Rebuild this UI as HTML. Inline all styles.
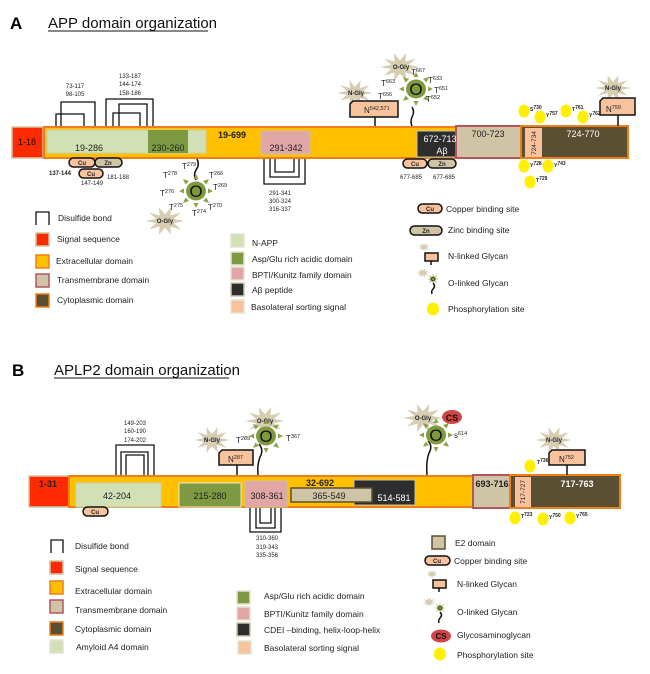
<!DOCTYPE html>
<html><head><meta charset="utf-8"><style>
html,body{margin:0;padding:0;background:#fff}
svg{display:block}
text{font-family:"Liberation Sans",sans-serif;fill:#222}
.d{font-size:9px;text-anchor:middle}
.s{font-size:6px;text-anchor:middle}
.l{font-size:8.5px}
.sup{font-size:5.5px}
</style></head><body>
<svg width="650" height="674" viewBox="0 0 650 674" xmlns="http://www.w3.org/2000/svg">
<defs>
<polygon id="star" fill="#d6cdb2" points="15,0 6.7,2.2 12.1,8.8 4.1,5.7 4.6,14.3 0,7 -4.6,14.3 -4.1,5.7 -12.1,8.8 -6.7,2.2 -15,0 -6.7,-2.2 -12.1,-8.8 -4.1,-5.7 -4.6,-14.3 0,-7 4.6,-14.3 4.1,-5.7 12.1,-8.8 6.7,-2.2" transform="scale(1.1,0.8)"/>
<g id="og">
<ellipse cx="0" cy="0" rx="10" ry="9.5" fill="#7f9a3e"/>
<g fill="#8aa347">
<polygon points="-2.5,-12 2.5,-12 0,-17"/>
<polygon points="-2.5,12 2.5,12 0,17"/>
<polygon points="12,-2.5 12,2.5 17,0"/>
<polygon points="-12,-2.5 -12,2.5 -17,0"/>
<polygon points="7,-10 10.5,-6.5 13,-12"/>
<polygon points="-7,-10 -10.5,-6.5 -13,-12"/>
<polygon points="7,10 10.5,6.5 13,12"/>
<polygon points="-7,10 -10.5,6.5 -13,12"/>
</g>
<text x="0" y="6" style="font-size:17px;text-anchor:middle;fill:#111">O</text>
</g>
</defs>

<!-- ===== A ===== -->
<text x="10" y="29" style="font-size:17px;font-weight:bold;fill:#000">A</text>
<text x="48" y="28" style="font-size:15px;fill:#111">APP domain organization</text>
<line x1="48" y1="31" x2="208" y2="31" stroke="#111" stroke-width="1"/>

<g fill="none" stroke="#111" stroke-width="1.3">
<path d="M61,126V102H95V126"/><path d="M56,126V114H84V126"/>
<path d="M106,126V99H153V126"/><path d="M119,126V104H147V126"/><path d="M113,126V113H140V126"/>
<path d="M264,159V184H305V159"/><path d="M270,159V177H299V159"/><path d="M275,159V172H294V159"/>
</g>
<text class="s" x="75" y="88">73-117</text><text class="s" x="75" y="96">98-105</text>
<text class="s" x="130" y="78">133-187</text><text class="s" x="130" y="86">144-174</text><text class="s" x="130" y="95">158-186</text>
<text class="s" x="280" y="195">291-341</text><text class="s" x="280" y="203">300-324</text><text class="s" x="280" y="211">316-337</text>

<rect x="12" y="127" width="31" height="31" fill="#ff2a00" stroke="#cfc5a6" stroke-width="1.5"/>
<rect x="44" y="127" width="414" height="31" fill="#ffc000" stroke="#f07e18" stroke-width="2"/>
<rect x="47" y="130" width="159" height="23" fill="#d1e0b5" stroke="#c8d0b0"/>
<rect x="148" y="130" width="40" height="23" fill="#7d9a42"/>
<rect x="261" y="131" width="49" height="23" fill="#e1a7a7" stroke="#c8c0a8"/>
<rect x="417" y="131" width="51" height="26" fill="#2d2d2d" stroke="#c8c0a8"/>
<rect x="456" y="126" width="65" height="32" fill="#cfc5a6" stroke="#b5555a" stroke-width="2"/>
<rect x="521" y="126" width="107" height="32" fill="#5a4f32" stroke="#f07e18" stroke-width="2"/>
<rect x="525" y="128" width="17" height="29" fill="#f8c29d"/>
<text class="d" x="27" y="145" style="fill:#111">1-18</text>
<text class="d" x="89" y="151">19-286</text>
<text class="d" x="168" y="151">230-260</text>
<text class="d" x="232" y="138" style="font-weight:bold">19-699</text>
<text class="d" x="286" y="151">291-342</text>
<text class="d" x="440" y="142" style="fill:#fff">672-713</text>
<text class="d" x="442" y="154" style="fill:#fff">Aβ</text>
<text class="d" x="488" y="137">700-723</text>
<text class="s" x="0" y="0" transform="translate(536,143) rotate(-90)" style="font-size:6.5px">724-734</text>
<text class="d" x="583" y="137" style="fill:#fff">724-770</text>

<g stroke="#111" stroke-width="1.5">
<rect x="69" y="158" width="26" height="9" rx="4.5" fill="#f8c29d"/>
<rect x="95" y="158" width="27" height="9" rx="4.5" fill="#cfc5a6"/>
<rect x="79" y="169" width="24" height="9" rx="4.5" fill="#f8c29d"/>
<rect x="403" y="159" width="24" height="9" rx="4.5" fill="#f8c29d"/>
<rect x="428" y="159" width="28" height="9" rx="4.5" fill="#cfc5a6"/>
</g>
<text class="s" x="82" y="165" style="font-weight:bold">Cu</text><text class="s" x="108" y="165" style="font-weight:bold">Zn</text>
<text class="s" x="91" y="176" style="font-weight:bold">Cu</text>
<text class="s" x="415" y="166" style="font-weight:bold">Cu</text><text class="s" x="442" y="166" style="font-weight:bold">Zn</text>
<text class="s" x="60" y="175" style="font-weight:bold">137-144</text>
<text class="s" x="92" y="185">147-149</text><text class="s" x="118" y="179">181-188</text>
<text class="s" x="411" y="179">677-685</text><text class="s" x="444" y="179">677-685</text>

<path d="M197,159 q3,6 -1,11 q-3,5 0,10" fill="none" stroke="#111" stroke-width="1.5"/>
<use href="#og" x="196" y="191"/>
<use href="#star" transform="translate(165,221) scale(1.2)"/>
<text class="s" x="165" y="223" style="font-weight:bold">O-Gly</text>
<g style="font-size:8px">
<text x="182" y="169">T<tspan class="sup" dy="-3">279</tspan></text>
<text x="163" y="178">T<tspan class="sup" dy="-3">278</tspan></text>
<text x="209" y="178">T<tspan class="sup" dy="-3">266</tspan></text>
<text x="213" y="190">T<tspan class="sup" dy="-3">269</tspan></text>
<text x="160" y="196">T<tspan class="sup" dy="-3">276</tspan></text>
<text x="169" y="210">T<tspan class="sup" dy="-3">275</tspan></text>
<text x="192" y="216">T<tspan class="sup" dy="-3">274</tspan></text>
<text x="208" y="210">T<tspan class="sup" dy="-3">270</tspan></text>
</g>

<use href="#star" transform="translate(400,67) scale(1.2)"/>
<text class="s" x="401" y="69" style="font-weight:bold">O-Gly</text>
<path d="M412,107 q3,5 0,10 q-2,5 0,9" fill="none" stroke="#111" stroke-width="1.5"/>
<use href="#og" x="416" y="89"/>
<g style="font-size:8px">
<text x="411" y="75">T<tspan class="sup" dy="-3">667</tspan></text>
<text x="381" y="86">T<tspan class="sup" dy="-3">663</tspan></text>
<text x="428" y="83">T<tspan class="sup" dy="-3">633</tspan></text>
<text x="434" y="93">T<tspan class="sup" dy="-3">651</tspan></text>
<text x="426" y="102">T<tspan class="sup" dy="-3">652</tspan></text>
<text x="378" y="99">T<tspan class="sup" dy="-3">656</tspan></text>
</g>
<use href="#star" transform="translate(355,93) scale(1.1)"/>
<text class="s" x="356" y="95" style="font-weight:bold">N-Gly</text>
<line x1="375" y1="117" x2="375" y2="126" stroke="#111" stroke-width="1.5"/>
<path d="M350,117V104L353,101H398V117Z" fill="#f8c29d" stroke="#111" stroke-width="1.5"/>
<text x="364" y="113" style="font-size:8px">N<tspan class="sup" dy="-3">542,571</tspan></text>

<use href="#star" transform="translate(613,88) scale(1.1)"/>
<text class="s" x="613" y="90" style="font-weight:bold">N-Gly</text>
<line x1="618" y1="115" x2="618" y2="126" stroke="#111" stroke-width="1.5"/>
<path d="M600,115V101L603,98H635V115Z" fill="#f8c29d" stroke="#111" stroke-width="1.5"/>
<text x="606" y="112" style="font-size:8px">N<tspan class="sup" dy="-3">759</tspan></text>

<g fill="#ffef00">
<ellipse cx="524" cy="111" rx="5.5" ry="6.5"/><ellipse cx="540" cy="117" rx="5.5" ry="6.5"/>
<ellipse cx="566" cy="111" rx="5.5" ry="6.5"/><ellipse cx="583" cy="117" rx="5.5" ry="6.5"/>
<ellipse cx="524" cy="166" rx="5.5" ry="6.5"/><ellipse cx="548" cy="166" rx="5.5" ry="6.5"/>
<ellipse cx="530" cy="182" rx="5.5" ry="6.5"/>
</g>
<g style="font-size:5px;font-weight:bold">
<text x="530" y="111">S<tspan dy="-2">730</tspan></text>
<text x="546" y="117">Y<tspan dy="-2">757</tspan></text>
<text x="572" y="111">T<tspan dy="-2">761</tspan></text>
<text x="589" y="117">Y<tspan dy="-2">762</tspan></text>
<text x="530" y="167">Y<tspan dy="-2">728</tspan></text>
<text x="554" y="167">Y<tspan dy="-2">743</tspan></text>
<text x="536" y="182">T<tspan dy="-2">729</tspan></text>
</g>

<!-- legend A -->
<path d="M36,225V212H49V225" fill="none" stroke="#111" stroke-width="1.3"/>
<text class="l" x="58" y="221">Disulfide bond</text>
<rect x="36" y="233" width="13" height="13" fill="#ff2a00" stroke="#cfc5a6" stroke-width="1.5"/>
<text class="l" x="57" y="242">Signal sequence</text>
<rect x="36" y="255" width="13" height="13" fill="#ffc000" stroke="#f07e18" stroke-width="1.5"/>
<text class="l" x="56" y="264">Extracellular domain</text>
<rect x="36" y="274" width="13" height="13" fill="#cfc5a6" stroke="#b5555a" stroke-width="1.5"/>
<text class="l" x="57" y="283">Transmembrane domain</text>
<rect x="36" y="294" width="13" height="13" fill="#5a4f32" stroke="#f07e18" stroke-width="1.5"/>
<text class="l" x="57" y="303">Cytoplasmic domain</text>

<rect x="231" y="234" width="13" height="13" fill="#d1e0b5" stroke="#e3e3d3" stroke-width="1.5"/>
<text class="l" x="252" y="246">N-APP</text>
<rect x="231" y="252" width="13" height="13" fill="#7d9a42" stroke="#e3e3d3" stroke-width="1.5"/>
<text class="l" x="252" y="262">Asp/Glu rich acidic domain</text>
<rect x="231" y="267" width="13" height="13" fill="#e1a7a7" stroke="#e3e3d3" stroke-width="1.5"/>
<text class="l" x="252" y="278">BPTI/Kunitz family domain</text>
<rect x="231" y="283" width="13" height="13" fill="#2d2d2d" stroke="#cfc5a6" stroke-width="1.5"/>
<text class="l" x="252" y="293">Aβ peptide</text>
<rect x="231" y="300" width="13" height="13" fill="#f8c29d" stroke="#e3e3d3" stroke-width="1.5"/>
<text class="l" x="251" y="310">Basolateral sorting signal</text>

<rect x="418" y="204" width="24" height="9" rx="4.5" fill="#f8c29d" stroke="#111" stroke-width="1.5"/>
<text class="s" x="430" y="211" style="font-weight:bold">Cu</text>
<text class="l" x="446" y="212">Copper binding site</text>
<rect x="410" y="226" width="32" height="9" rx="4.5" fill="#cfc5a6" stroke="#111" stroke-width="1.5"/>
<text class="s" x="426" y="233" style="font-weight:bold">Zn</text>
<text class="l" x="448" y="233">Zinc binding site</text>
<use href="#star" transform="translate(424,247) scale(0.35)"/>
<path d="M425,261V253H438V261Z" fill="#f8c29d" stroke="#111" stroke-width="1.5"/>
<line x1="431" y1="261" x2="431" y2="265" stroke="#111" stroke-width="1.5"/>
<text class="l" x="448" y="259">N-linked Glycan</text>
<use href="#star" transform="translate(423,273) scale(0.4)"/>
<use href="#og" transform="translate(433,279) scale(0.3)"/>
<path d="M433,283 q3,3 0,6 q-2,2 -1,5" fill="none" stroke="#111" stroke-width="1.5"/>
<text class="l" x="448" y="286">O-linked Glycan</text>
<ellipse cx="433" cy="309" rx="6" ry="6.5" fill="#ffef00"/>
<text class="l" x="448" y="312">Phosphorylation site</text>

<!-- ===== B ===== -->
<text x="12" y="376" style="font-size:17px;font-weight:bold;fill:#000">B</text>
<text x="54" y="375" style="font-size:15px;fill:#111">APLP2 domain organization</text>
<line x1="54" y1="378" x2="229" y2="378" stroke="#111" stroke-width="1"/>

<g fill="none" stroke="#111" stroke-width="1.3">
<path d="M116,475V445H154V475"/><path d="M121,475V452H148V475"/><path d="M126,475V455H144V475"/>
<path d="M250,508V532H281V508"/><path d="M256,508V528H275V508"/><path d="M260,508V523H271V508"/>
</g>
<text class="s" x="135" y="425">149-203</text><text class="s" x="135" y="433">160-190</text><text class="s" x="135" y="442">174-202</text>
<text class="s" x="267" y="540">310-360</text><text class="s" x="267" y="549">319-343</text><text class="s" x="267" y="557">335-356</text>

<rect x="29" y="476" width="40" height="31" fill="#ff2a00" stroke="#cfc5a6" stroke-width="1.5"/>
<rect x="69" y="476" width="404" height="31" fill="#ffc000" stroke="#f07e18" stroke-width="2"/>
<rect x="76" y="483" width="85" height="24" fill="#d1e0b5" stroke="#c8d0b0"/>
<rect x="179" y="483" width="62" height="24" fill="#7d9a42" stroke="#e8e8d8"/>
<rect x="245" y="481" width="42" height="26" fill="#e1a7a7" stroke="#c8c0a8"/>
<rect x="354" y="480" width="61" height="25" fill="#2d2d2d" stroke="#c8c0a8"/>
<rect x="291" y="488" width="81" height="14" fill="#cfc5a6" stroke="#5a4f32" stroke-width="1.5"/>
<rect x="473" y="475" width="37" height="33" fill="#cfc5a6" stroke="#b5555a" stroke-width="2"/>
<rect x="510" y="475" width="110" height="33" fill="#5a4f32" stroke="#f07e18" stroke-width="2"/>
<rect x="515" y="477" width="16" height="30" fill="#f8c29d"/>
<text class="d" x="48" y="487" style="font-weight:bold">1-31</text>
<text class="d" x="117" y="499">42-204</text>
<text class="d" x="210" y="499">215-280</text>
<text class="d" x="267" y="499">308-361</text>
<text class="d" x="320" y="486" style="font-weight:bold">32-692</text>
<text class="d" x="329" y="499">365-549</text>
<text class="d" x="394" y="501" style="fill:#fff">514-581</text>
<text class="d" x="492" y="487" style="font-weight:bold">693-716</text>
<text class="s" x="0" y="0" transform="translate(525,492) rotate(-90)" style="font-size:6.5px">717-727</text>
<text class="d" x="577" y="487" style="fill:#fff;font-weight:bold">717-763</text>

<rect x="83" y="507" width="25" height="9" rx="4.5" fill="#f8c29d" stroke="#111" stroke-width="1.5"/>
<text class="s" x="95" y="514" style="font-weight:bold">Cu</text>

<use href="#star" transform="translate(212,440) scale(1.1)"/>
<text class="s" x="212" y="442" style="font-weight:bold">N-Gly</text>
<line x1="237" y1="465" x2="237" y2="475" stroke="#111" stroke-width="1.5"/>
<path d="M219,465V453L222,450H253V465Z" fill="#f8c29d" stroke="#111" stroke-width="1.5"/>
<text x="228" y="462" style="font-size:8px">N<tspan class="sup" dy="-3">287</tspan></text>
<use href="#star" transform="translate(265,421) scale(1.2)"/>
<text class="s" x="265" y="423" style="font-weight:bold">O-Gly</text>
<path d="M259,444 q5,6 1,13 q-3,8 -2,18" fill="none" stroke="#111" stroke-width="1.5"/>
<use href="#og" x="266" y="436"/>
<text x="236" y="443" style="font-size:8px">T<tspan class="sup" dy="-3">289</tspan></text>
<text x="286" y="441" style="font-size:8px">T<tspan class="sup" dy="-3">367</tspan></text>

<use href="#star" transform="translate(423,418) scale(1.2)"/>
<text class="s" x="423" y="420" style="font-weight:bold">O-Gly</text>
<ellipse cx="452" cy="417" rx="10" ry="7" fill="#d24545"/>
<text class="d" x="452" y="421" style="font-weight:bold;fill:#111">CS</text>
<path d="M428,441 q5,5 1,12 q-3,8 -2,22" fill="none" stroke="#111" stroke-width="1.5"/>
<use href="#og" x="436" y="435"/>
<text x="454" y="438" style="font-size:8px">s<tspan class="sup" dy="-3">614</tspan></text>

<use href="#star" transform="translate(554,440) scale(1.1)"/>
<text class="s" x="554" y="442" style="font-weight:bold">N-Gly</text>
<line x1="567" y1="465" x2="567" y2="475" stroke="#111" stroke-width="1.5"/>
<path d="M549,465V453L552,450H585V465Z" fill="#f8c29d" stroke="#111" stroke-width="1.5"/>
<text x="559" y="462" style="font-size:8px">N<tspan class="sup" dy="-3">752</tspan></text>

<g fill="#ffef00">
<ellipse cx="530" cy="466" rx="5.5" ry="6.5"/>
<ellipse cx="515" cy="518" rx="5.5" ry="6.5"/><ellipse cx="543" cy="519" rx="5.5" ry="6.5"/><ellipse cx="570" cy="518" rx="5.5" ry="6.5"/>
</g>
<g style="font-size:5px;font-weight:bold">
<text x="537" y="464">T<tspan dy="-2">736</tspan></text>
<text x="521" y="518">T<tspan dy="-2">723</tspan></text>
<text x="549" y="519">Y<tspan dy="-2">750</tspan></text>
<text x="576" y="518">Y<tspan dy="-2">765</tspan></text>
</g>

<!-- legend B -->
<path d="M51,553V540H63V553" fill="none" stroke="#111" stroke-width="1.3"/>
<text class="l" x="75" y="549">Disulfide bond</text>
<rect x="50" y="561" width="13" height="13" fill="#ff2a00" stroke="#cfc5a6" stroke-width="1.5"/>
<text class="l" x="75" y="572">Signal sequence</text>
<rect x="50" y="581" width="13" height="13" fill="#ffc000" stroke="#f07e18" stroke-width="1.5"/>
<text class="l" x="75" y="594">Extracellular domain</text>
<rect x="50" y="600" width="13" height="13" fill="#cfc5a6" stroke="#b5555a" stroke-width="1.5"/>
<text class="l" x="75" y="613">Transmembrane domain</text>
<rect x="50" y="622" width="13" height="13" fill="#5a4f32" stroke="#f07e18" stroke-width="1.5"/>
<text class="l" x="75" y="632">Cytoplasmic domain</text>
<rect x="50" y="640" width="13" height="13" fill="#d1e0b5" stroke="#e3e3d3" stroke-width="1.5"/>
<text class="l" x="76" y="650">Amyloid A4 domain</text>

<rect x="237" y="591" width="13" height="13" fill="#7d9a42" stroke="#e3e3d3" stroke-width="1.5"/>
<text class="l" x="264" y="599">Asp/Glu rich acidic domain</text>
<rect x="237" y="607" width="13" height="13" fill="#e1a7a7" stroke="#e3e3d3" stroke-width="1.5"/>
<text class="l" x="264" y="617">BPTI/Kunitz family domain</text>
<rect x="237" y="623" width="13" height="13" fill="#2d2d2d" stroke="#cfc5a6" stroke-width="1.5"/>
<text class="l" x="264" y="633">CDEI –binding, helix-loop-helix</text>
<rect x="238" y="641" width="13" height="13" fill="#f8c29d" stroke="#e3e3d3" stroke-width="1.5"/>
<text class="l" x="264" y="651">Basolateral sorting signal</text>

<rect x="432" y="536" width="13" height="13" fill="#cfc5a6" stroke="#5a4f32" stroke-width="1.5"/>
<text class="l" x="455" y="546">E2 domain</text>
<rect x="425" y="556" width="25" height="9" rx="4.5" fill="#f8c29d" stroke="#111" stroke-width="1.5"/>
<text class="s" x="437" y="563" style="font-weight:bold">Cu</text>
<text class="l" x="454" y="564">Copper binding site</text>
<use href="#star" transform="translate(432,574) scale(0.35)"/>
<path d="M433,588V580H446V588Z" fill="#f8c29d" stroke="#111" stroke-width="1.5"/>
<line x1="439" y1="588" x2="439" y2="592" stroke="#111" stroke-width="1.5"/>
<text class="l" x="457" y="587">N-linked Glycan</text>
<use href="#star" transform="translate(429,602) scale(0.4)"/>
<use href="#og" transform="translate(440,608) scale(0.3)"/>
<path d="M440,612 q3,3 0,6 q-2,2 -1,5" fill="none" stroke="#111" stroke-width="1.5"/>
<text class="l" x="457" y="615">O-linked Glycan</text>
<ellipse cx="441" cy="636" rx="10" ry="6.5" fill="#d24545"/>
<text class="d" x="441" y="639" style="font-weight:bold;fill:#111;font-size:8px">CS</text>
<text class="l" x="457" y="638">Glycosaminoglycan</text>
<ellipse cx="440" cy="654" rx="6" ry="6.5" fill="#ffef00"/>
<text class="l" x="457" y="658">Phosphorylation site</text>
</svg>
</body></html>
